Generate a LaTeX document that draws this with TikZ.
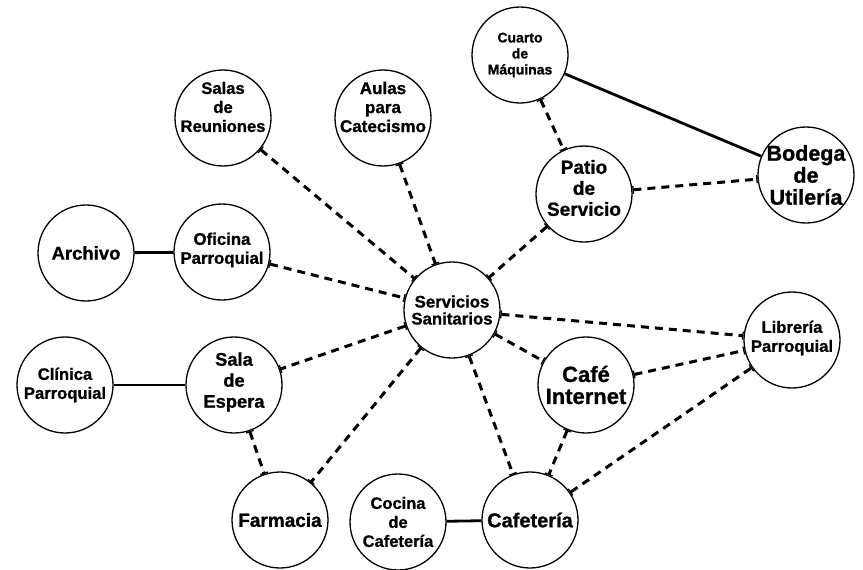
\documentclass[tikz,border=0pt]{standalone}
\usepackage{fontspec}
\setmainfont{Liberation Sans}[BoldFeatures={FakeBold=1}]
\usetikzlibrary{arrows.meta}
\newcommand\fsz[2]{\fontsize{#1pt}{#2pt}\selectfont\bfseries}
\tikzset{
  room/.style={circle, draw, line width=1.3pt, minimum size=96pt, inner sep=0pt},
  lab/.style={align=center, inner sep=0pt},
  dl/.style={line width=3pt, dash pattern=on 8pt off 6pt, {Bar[width=8pt,line width=1.3pt]}-{Bar[width=8pt,line width=1.3pt]}},
  sl/.style={line width=2.8pt}
}
\begin{document}
\begin{tikzpicture}[x=1pt,y=-1pt]
\useasboundingbox (0,0) rectangle (863,570);
\node[room, label={[lab, font=\fsz{14}{16}]center:{Cuarto\\de\\Máquinas}}] (cuarto) at (520,55) {};
\node[room, label={[lab, font=\fsz{16.6}{19}, yshift=11pt]center:{Salas\\de\\Reuniones}}] (salas) at (223,118) {};
\node[room, label={[lab, font=\fsz{17}{19}, yshift=11pt]center:{Aulas\\para\\Catecismo}}] (aulas) at (383,118) {};
\node[room, label={[lab, font=\fsz{19}{21}, yshift=6pt]center:{Patio\\de\\Servicio}}] (patio) at (584,194) {};
\node[room, label={[lab, font=\fsz{21.5}{22}]center:{Bodega\\de\\Utilería}}] (bodega) at (806,175) {};
\node[room, label={[lab, font=\fsz{18.5}{20}]center:{Archivo}}] (archivo) at (86,253) {};
\node[room, label={[lab, font=\fsz{16.8}{19}, yshift=2pt]center:{Oficina\\Parroquial}}] (oficina) at (222,252) {};
\node[room, label={[lab, font=\fsz{16.8}{17}]center:{Servicios\\Sanitarios}}] (serv) at (452,310) {};
\node[room, label={[lab, font=\fsz{16.6}{19}, yshift=2pt]center:{Librería\\Parroquial}}] (libr) at (792,340) {};
\node[room, label={[lab, font=\fsz{16.6}{19}]center:{Clínica\\Parroquial}}] (clinica) at (65,385) {};
\node[room, label={[lab, font=\fsz{18.3}{21}, yshift=3pt]center:{Sala\\de\\Espera}}] (sala) at (234,385) {};
\node[room, label={[lab, font=\fsz{22}{22}]center:{Café\\Internet}}] (cafe) at (586,385) {};
\node[room, label={[lab, font=\fsz{19}{20}]center:{Farmacia}}] (farm) at (280,520) {};
\node[room, label={[lab, font=\fsz{16.5}{19}]center:{Cocina\\de\\Cafetería}}] (cocina) at (398,522) {};
\node[room, label={[lab, font=\fsz{20}{21}]center:{Cafetería}}] (cafet) at (530,520) {};
% solid links
\draw[sl] (archivo) -- (oficina);
\draw[sl] (cuarto) -- (bodega);
\draw[sl] (clinica) -- (sala);
\draw[sl] (cocina) -- (cafet);
% dashed links
\draw[dl] (oficina) -- (serv);
\draw[dl] (salas) -- (serv);
\draw[dl] (aulas) -- (serv);
\draw[dl] (patio) -- (serv);
\draw[dl] (cuarto) -- (patio);
\draw[dl] (patio) -- (bodega);
\draw[dl] (serv) -- (libr);
\draw[dl] (serv) -- (cafe);
\draw[dl] (serv) -- (cafet);
\draw[dl] (serv) -- (farm);
\draw[dl] (serv) -- (sala);
\draw[dl] (sala) -- (farm);
\draw[dl] (cafe) -- (libr);
\draw[dl] (cafe) -- (cafet);
\draw[dl] (cafet) -- (libr);
\end{tikzpicture}
\end{document}
